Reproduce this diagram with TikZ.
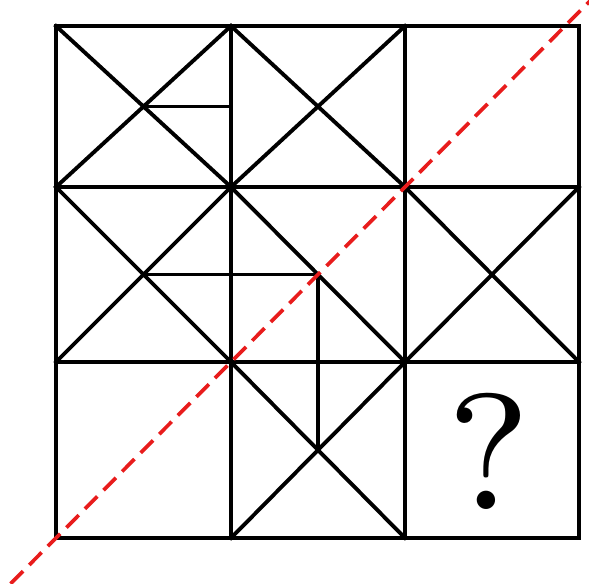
\documentclass[tikz,border=0pt]{standalone}
\usepackage{fontspec}
\usepackage{tikz}
\usetikzlibrary{calc}
\definecolor{cutred}{RGB}{232,28,28}
\newfontfamily\quesfont{lmroman8-regular}[Extension=.otf]

\begin{document}
\begin{tikzpicture}[x=0.02cm, y=-0.02cm, line cap=rect,
    gridline/.style={line width=2.2pt, black},
    axisline/.style={line width=2.1pt, cutred, dashed, dash pattern=on 10pt off 5pt, line cap=butt}]
	% 画布
	\useasboundingbox (0,0) rectangle (589,583);
	
	% 格点
	\foreach \i/\x in {0/56, 1/231, 2/405, 3/579}
	  \foreach \j/\y in {0/26, 1/187, 2/362, 3/538}
	    \coordinate (p\i\j) at (\x,\y);
	
	% 各格中心
	\coordinate (m00) at ($(p00)!0.5!(p11)$);
	\coordinate (m01) at ($(p01)!0.5!(p12)$);
	\coordinate (m11) at ($(p11)!0.5!(p22)$);
	\coordinate (m12) at ($(p12)!0.5!(p23)$);
	
	% 外框与网格线
	\draw[gridline] (p00) rectangle (p33);
	\draw[gridline] (p10) -- (p13) (p20) -- (p23);
	\draw[gridline] (p01) -- (p31) (p02) -- (p32);
	
	% 交叉对角线
	\draw[gridline] (p00) -- (p11) (p10) -- (p01);
	\draw[gridline] (p10) -- (p21) (p20) -- (p11);
	\draw[gridline] (p01) -- (p12) (p11) -- (p02);
	\draw[gridline] (p21) -- (p32) (p31) -- (p22);
	\draw[gridline] (p12) -- (p23) (p22) -- (p13);
	
	% 单条对角线
	\draw[gridline] (p11) -- (p22);
	
	% 折线
	\draw[gridline] (m00) -- (m00 -| p10);
	\draw[gridline] (m01) -- (m11) -- (m12);
	
	% 问号
	\node[inner sep=0pt] (ques) at (489,451) {\quesfont\fontsize{94}{94}\selectfont ?};
	
	% 对称轴 (红色虚线)
	\draw[axisline] ($(p03)!-0.13!(p21)$) -- ($(p03)!1.53!(p21)$);
\end{tikzpicture}
\end{document}
